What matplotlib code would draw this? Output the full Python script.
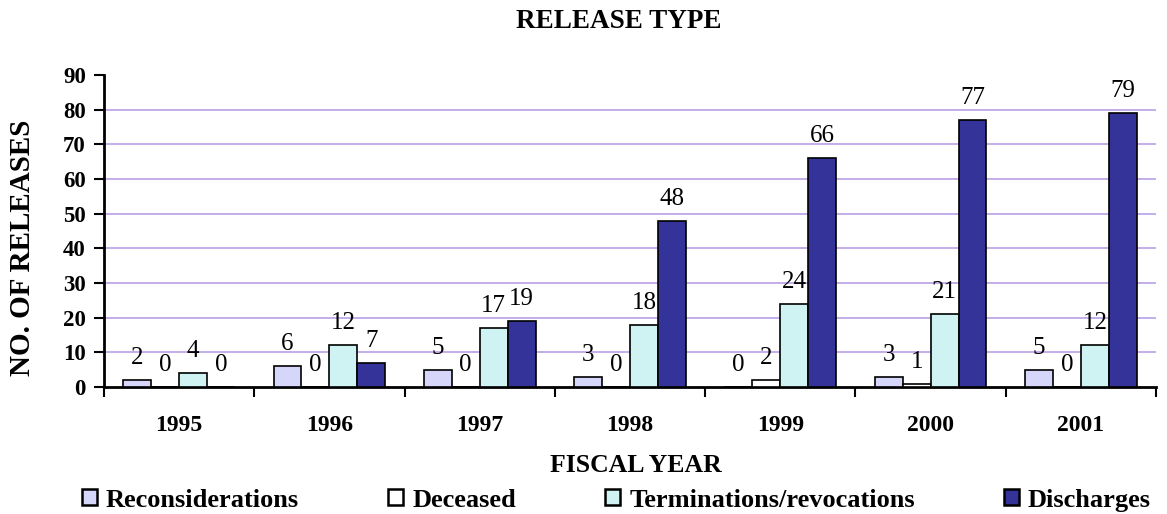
import matplotlib
matplotlib.use("Agg")
import matplotlib.pyplot as plt
import numpy as np

years = ["1995", "1996", "1997", "1998", "1999", "2000", "2001"]
series_names = ["Reconsiderations", "Deceased", "Terminations/revocations", "Discharges"]
reconsiderations = [2, 6, 5, 3, 0, 3, 5]
deceased = [0, 0, 0, 0, 2, 1, 0]
terminations = [4, 12, 17, 18, 24, 21, 12]
discharges = [0, 7, 19, 48, 66, 77, 79]
colors = ["#D6D6FA", "#FFFFFF", "#CFF2F2", "#333399"]

plt.rcParams['font.family'] = ['Liberation Serif', 'DejaVu Serif']

fig = plt.figure(figsize=(11.67, 5.14), dpi=100)
ax = fig.add_axes([0.0891, 0.2471, 0.9015, 0.6070])

x = np.arange(len(years))
bw = 0.186
data = [reconsiderations, deceased, terminations, discharges]
for i, (vals, name, c) in enumerate(zip(data, series_names, colors)):
    pos = x + (i - 1.5) * bw
    ax.bar(pos, vals, width=bw, color=c, edgecolor="black", linewidth=1.2, label=name, zorder=3)
    for px, v in zip(pos, vals):
        ax.annotate(str(v), (px, v), xytext=(0, 11.5), textcoords="offset points",
                    ha="center", va="baseline", fontsize=18, zorder=4)

ax.set_xlim(-0.5, len(years) - 0.5)
ax.set_ylim(0, 90)
ax.set_yticks(np.arange(0, 91, 10))
ax.set_xticks(x)
ax.set_xticklabels(years, fontsize=17, fontweight="bold")
ax.tick_params(axis="x", length=0, pad=20)
ax.set_xticks(np.arange(-0.5, len(years), 1), minor=True)
ax.tick_params(axis="x", which="minor", length=7, width=1.5, direction="out")
ax.tick_params(axis="y", length=7, width=1.5, direction="out", labelsize=16.5, pad=6)
for lab in ax.get_yticklabels():
    lab.set_fontweight("bold")

ax.yaxis.grid(True, color="#B9A0E6", linewidth=1.2, zorder=0)
gl = ax.get_ygridlines()
gl[0].set_visible(False)
gl[-1].set_visible(False)
ax.set_axisbelow(True)

for s in ["top", "right"]:
    ax.spines[s].set_visible(False)
for s in ["left", "bottom"]:
    ax.spines[s].set_linewidth(2)

fig.text(0.53, 0.959, "RELEASE TYPE", ha="center", va="center", fontsize=19.5, fontweight="bold")
fig.text(0.545, 0.095, "FISCAL YEAR", ha="center", va="center", fontsize=18.5, fontweight="bold")
fig.text(0.019, 0.517, "NO. OF RELEASES", ha="center", va="center", rotation=90, fontsize=21, fontweight="bold")

leg = fig.legend(loc="center", bbox_to_anchor=(0.0703, 0.027, 0.916, 0.0), mode="expand",
                 ncol=4, frameon=False, borderpad=0, borderaxespad=0,
                 handlelength=0.55, handleheight=0.55, handletextpad=0.35,
                 prop={"size": 19, "weight": "bold"})
for h in leg.legend_handles:
    h.set_linewidth(1.8)

fig.savefig("out.png", dpi=100)
